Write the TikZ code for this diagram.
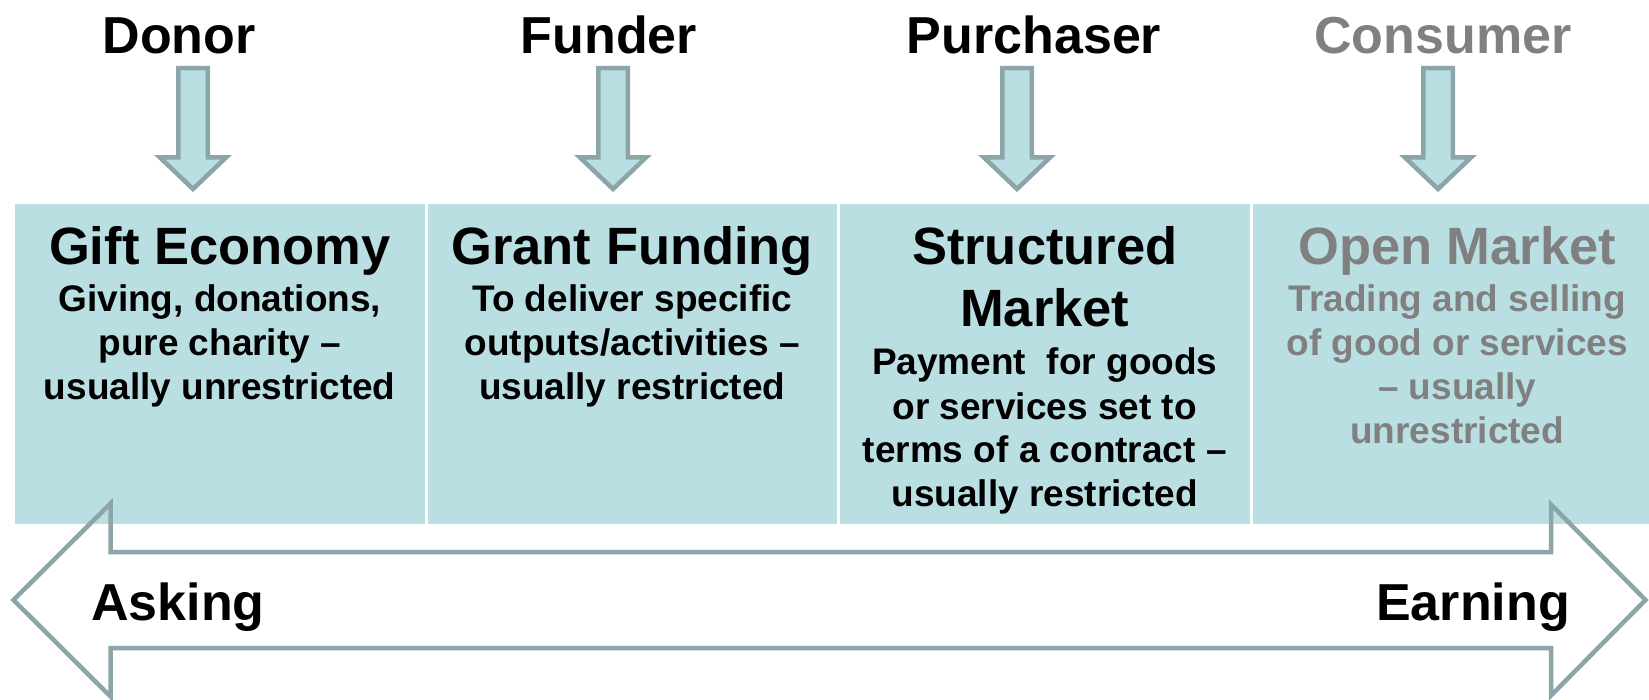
\documentclass[tikz,border=0pt]{standalone}
\usepackage{fontspec}
\setmainfont{Liberation Sans}
\definecolor{boxfill}{RGB}{186,223,227}
\definecolor{arrowline}{RGB}{139,165,168}
\definecolor{greytext}{RGB}{128,128,128}
\newcommand{\mylines}[1]{\begin{tabular}[t]{@{}c@{}}#1\end{tabular}}
\tikzset{
  colbox/.style={fill=boxfill, draw=none, inner sep=0pt, anchor=north west,
    minimum height=320pt},
  headtext/.style={font=\fontsize{52}{60}\selectfont\bfseries, anchor=base, inner sep=0pt},
  titletext/.style={font=\fontsize{52.5}{62}\selectfont\bfseries, anchor=base, inner sep=0pt},
  subtext/.style={font=\fontsize{37}{44}\selectfont\bfseries, anchor=base, inner sep=0pt},
  blockarrow/.style={draw=arrowline, line width=4.5pt, fill=boxfill, line join=miter},
  bigarrow/.style={draw=arrowline, line width=4.5pt, line join=miter},
  greyed/.style={text=greytext}
}
\begin{document}
\begin{tikzpicture}[x=1pt,y=-1pt]
\useasboundingbox (0,0) rectangle (1649,700);

% column boxes
\node[colbox, minimum width=409.5pt] (b1) at (15,204) {};
\node[colbox, minimum width=409.5pt] (b2) at (427.5,204) {};
\node[colbox, minimum width=409.5pt] (b3) at (840,204) {};
\node[colbox, minimum width=396.5pt] (b4) at (1252.5,204) {};

% headers
\node[headtext] (h1) at (179,54) {Donor};
\node[headtext] (h2) at (609,54) {Funder};
\node[headtext] (h3) at (1034,54) {Purchaser};
\node[headtext, greyed] (h4) at (1443,54) {Consumer};

% down block arrows
\foreach \c/\n in {193/a1, 613/a2, 1017/a3, 1438/a4}{
  \coordinate (\n) at (\c,68.25);
  \draw[blockarrow] (\n) ++(-14.75,0) -- ++(29.5,0)
    -- ++(0,89.25) -- ++(18.25,0) -- ++(-33,31.5)
    -- ++(-33,-31.5) -- ++(18.25,0) -- cycle;
}

% titles
\node[titletext] (t1) at (219.75,265) {Gift Economy};
\node[titletext] (t2) at (632.25,265) {Grant Funding};
\node[titletext] (t3) at (1044.75,265) {\mylines{Structured\\Market}};
\node[titletext, greyed] (t4) at (1457.25,265) {Open Market};

% descriptions
\node[subtext] (s1) at (219.75,312) {\mylines{Giving, donations,\\pure charity –\\usually unrestricted}};
\node[subtext] (s2) at (632.25,312) {\mylines{To deliver specific\\outputs/activities –\\usually restricted}};
\node[subtext] (s3) at (1044.75,375) {\mylines{Payment~ for goods\\or services set to\\terms of a contract –\\usually restricted}};
\node[subtext, greyed] (s4) at (1457.25,312) {\mylines{Trading and selling\\of good or services\\– usually\\unrestricted}};

% big double arrow
\coordinate (lt) at (13.5,600);
\coordinate (rt) at (1645.5,600);
\draw[bigarrow] (lt) -- (110.5,503.5) -- (110.5,552) -- (1551,552) -- (1551,504.5)
  -- (rt) -- (1551,695.5) -- (1551,648) -- (110.5,648) -- (110.5,696.5) -- cycle;

\node[headtext, anchor=base west] (ask) at (91,620) {Asking};
\node[headtext, anchor=base east] (earn) at (1570,620) {Earning};
\end{tikzpicture}
\end{document}
